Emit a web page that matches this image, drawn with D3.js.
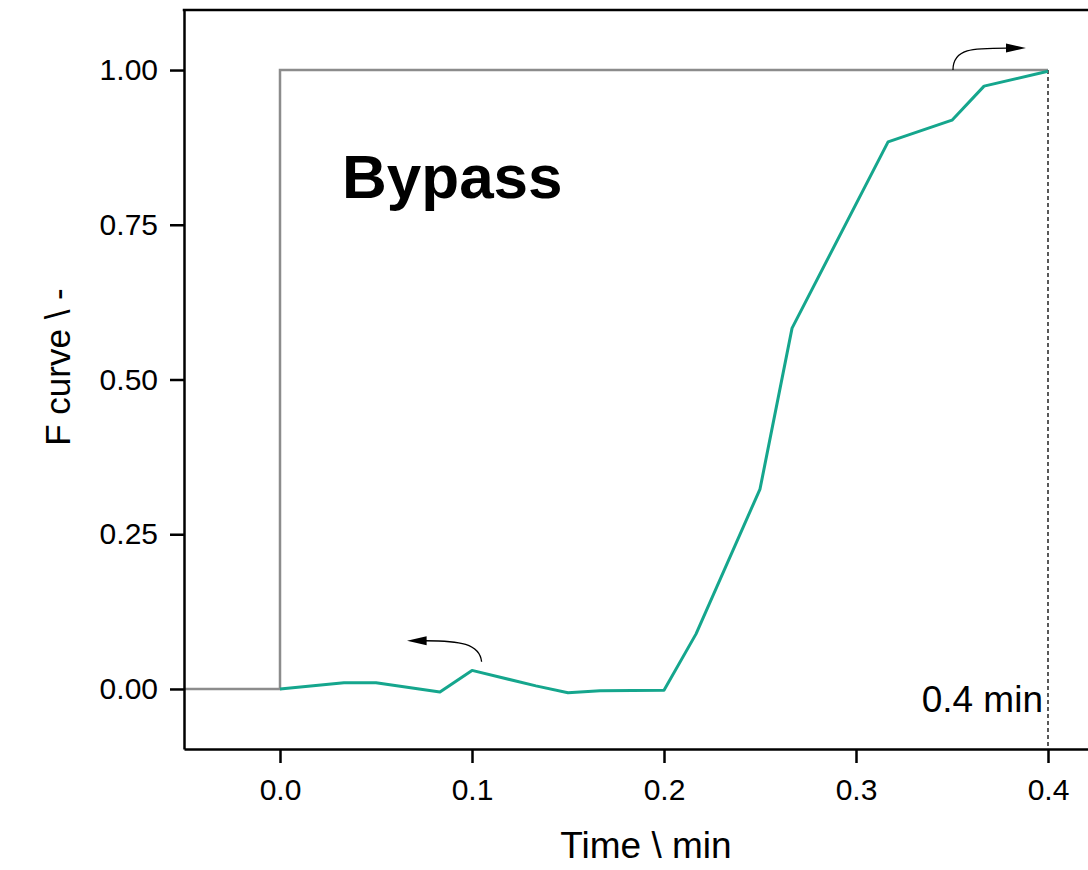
<!DOCTYPE html>
<html>
<head>
<meta charset="utf-8">
<script src="https://cdn.jsdelivr.net/npm/d3@7"></script>
<style>
  html, body { margin: 0; padding: 0; background: #fff; }
  svg { display: block; font-family: "Liberation Sans", Arial, sans-serif; }
</style>
</head>
<body>
<svg id="chart" width="1088" height="870"></svg>
<script>
// measured F curve (bypass run)
const timeMin = [0, 0.0333, 0.05, 0.0833, 0.1, 0.1333, 0.15, 0.1667, 0.2, 0.2167, 0.25, 0.2667, 0.3167, 0.35, 0.3667, 0.4];
const fCurve = [0, 0.010, 0.010, -0.005, 0.030, 0.005, -0.006, -0.003, -0.002, 0.089, 0.323, 0.583, 0.884, 0.919, 0.974, 0.998];

// ideal step input
const stepTime = [-0.05, 0, 0, 0.4];
const stepValue = [0, 0, 1, 1];

const xTicks = [0, 0.1, 0.2, 0.3, 0.4];
const yTicks = [0, 0.25, 0.5, 0.75, 1.0];

const svg = d3.select('#chart');
const plotLeft = 184, plotTop = 10, plotBottom = 749;

// right side of the frame runs past the picture edge
const x = d3.scaleLinear().domain([-0.05, 0.45]).range([plotLeft, 1144]);
const y = d3.scaleLinear().domain([-0.097, 1.097]).range([plotBottom, plotTop]);

const line = d3.line().x(d => x(d[0])).y(d => y(d[1]));

// step line (grey)
svg.append('path')
  .datum(d3.zip(stepTime, stepValue))
  .attr('d', line)
  .attr('fill', 'none')
  .attr('stroke', '#8c8c8c')
  .attr('stroke-width', 2.5);

// dashed marker at 0.4 min
svg.append('line')
  .attr('x1', x(0.4)).attr('x2', x(0.4))
  .attr('y1', y(1)).attr('y2', y(-0.097))
  .attr('stroke', '#000')
  .attr('stroke-width', 1.3)
  .attr('stroke-dasharray', '4,3');

// F curve (teal)
svg.append('path')
  .datum(d3.zip(timeMin, fCurve))
  .attr('d', line)
  .attr('fill', 'none')
  .attr('stroke', '#15a68d')
  .attr('stroke-width', 3)
  .attr('stroke-linejoin', 'round');

// axes
const yAxis = d3.axisLeft(y).tickValues(yTicks).tickFormat(d3.format('.2f'))
  .tickSize(14).tickSizeOuter(0).tickPadding(12);
const xAxis = d3.axisBottom(x).tickValues(xTicks).tickFormat(d3.format('.1f'))
  .tickSize(14).tickSizeOuter(0).tickPadding(16);

const yg = svg.append('g').attr('transform', `translate(${plotLeft},0)`).call(yAxis);
const xg = svg.append('g').attr('transform', `translate(0,${plotBottom})`).call(xAxis);
[yg, xg].forEach(g => {
  g.selectAll('path.domain').attr('stroke', '#000').attr('stroke-width', 2.5);
  g.selectAll('.tick line').attr('stroke', '#000').attr('stroke-width', 2.5);
  g.selectAll('.tick text').attr('fill', '#000')
    .style('font-size', '30px').style('font-family', '"Liberation Sans", Arial, sans-serif');
});

// top frame line
svg.append('line')
  .attr('x1', plotLeft - 1.25).attr('x2', 1144)
  .attr('y1', plotTop).attr('y2', plotTop)
  .attr('stroke', '#000').attr('stroke-width', 2.5);

// axis titles
svg.append('text')
  .attr('x', 646).attr('y', 858)
  .attr('text-anchor', 'middle')
  .style('font-size', '37px')
  .text('Time \\ min');

svg.append('text')
  .attr('transform', 'translate(70,367) rotate(-90)')
  .attr('text-anchor', 'middle')
  .style('font-size', '35px')
  .text('F curve \\ -');

// annotations
svg.append('text')
  .attr('x', 342).attr('y', 198)
  .style('font-size', '62px').style('font-weight', 'bold')
  .text('Bypass');

svg.append('text')
  .attr('x', x(0.4) - 5).attr('y', 712)
  .attr('text-anchor', 'end')
  .style('font-size', '37px')
  .text('0.4 min');

// curved arrows pointing to the axis each curve belongs to
const defs = svg.append('defs');
defs.append('marker')
  .attr('id', 'head')
  .attr('viewBox', '0 0 20 10')
  .attr('refX', 1).attr('refY', 5)
  .attr('markerWidth', 20).attr('markerHeight', 10)
  .attr('markerUnits', 'userSpaceOnUse')
  .attr('orient', 'auto')
  .append('path').attr('d', 'M0,0.5 L20,5 L0,9.5 Z').attr('fill', '#000');

const ax1 = x(0.3505), ay1 = y(1);
svg.append('path')
  .attr('d', `M${ax1},${ay1} C${ax1},${ay1 - 22} ${ax1 + 20},${ay1 - 22} ${ax1 + 54},${ay1 - 22}`)
  .attr('fill', 'none').attr('stroke', '#000').attr('stroke-width', 1.3)
  .attr('marker-end', 'url(#head)');

const ax2 = x(0.105), ay2 = y(0.044);
svg.append('path')
  .attr('d', `M${ax2},${ay2} C${ax2 - 2},${ay2 - 18} ${ax2 - 22},${ay2 - 21} ${ax2 - 56},${ay2 - 21}`)
  .attr('fill', 'none').attr('stroke', '#000').attr('stroke-width', 1.3)
  .attr('marker-end', 'url(#head)');
</script>
</body>
</html>
